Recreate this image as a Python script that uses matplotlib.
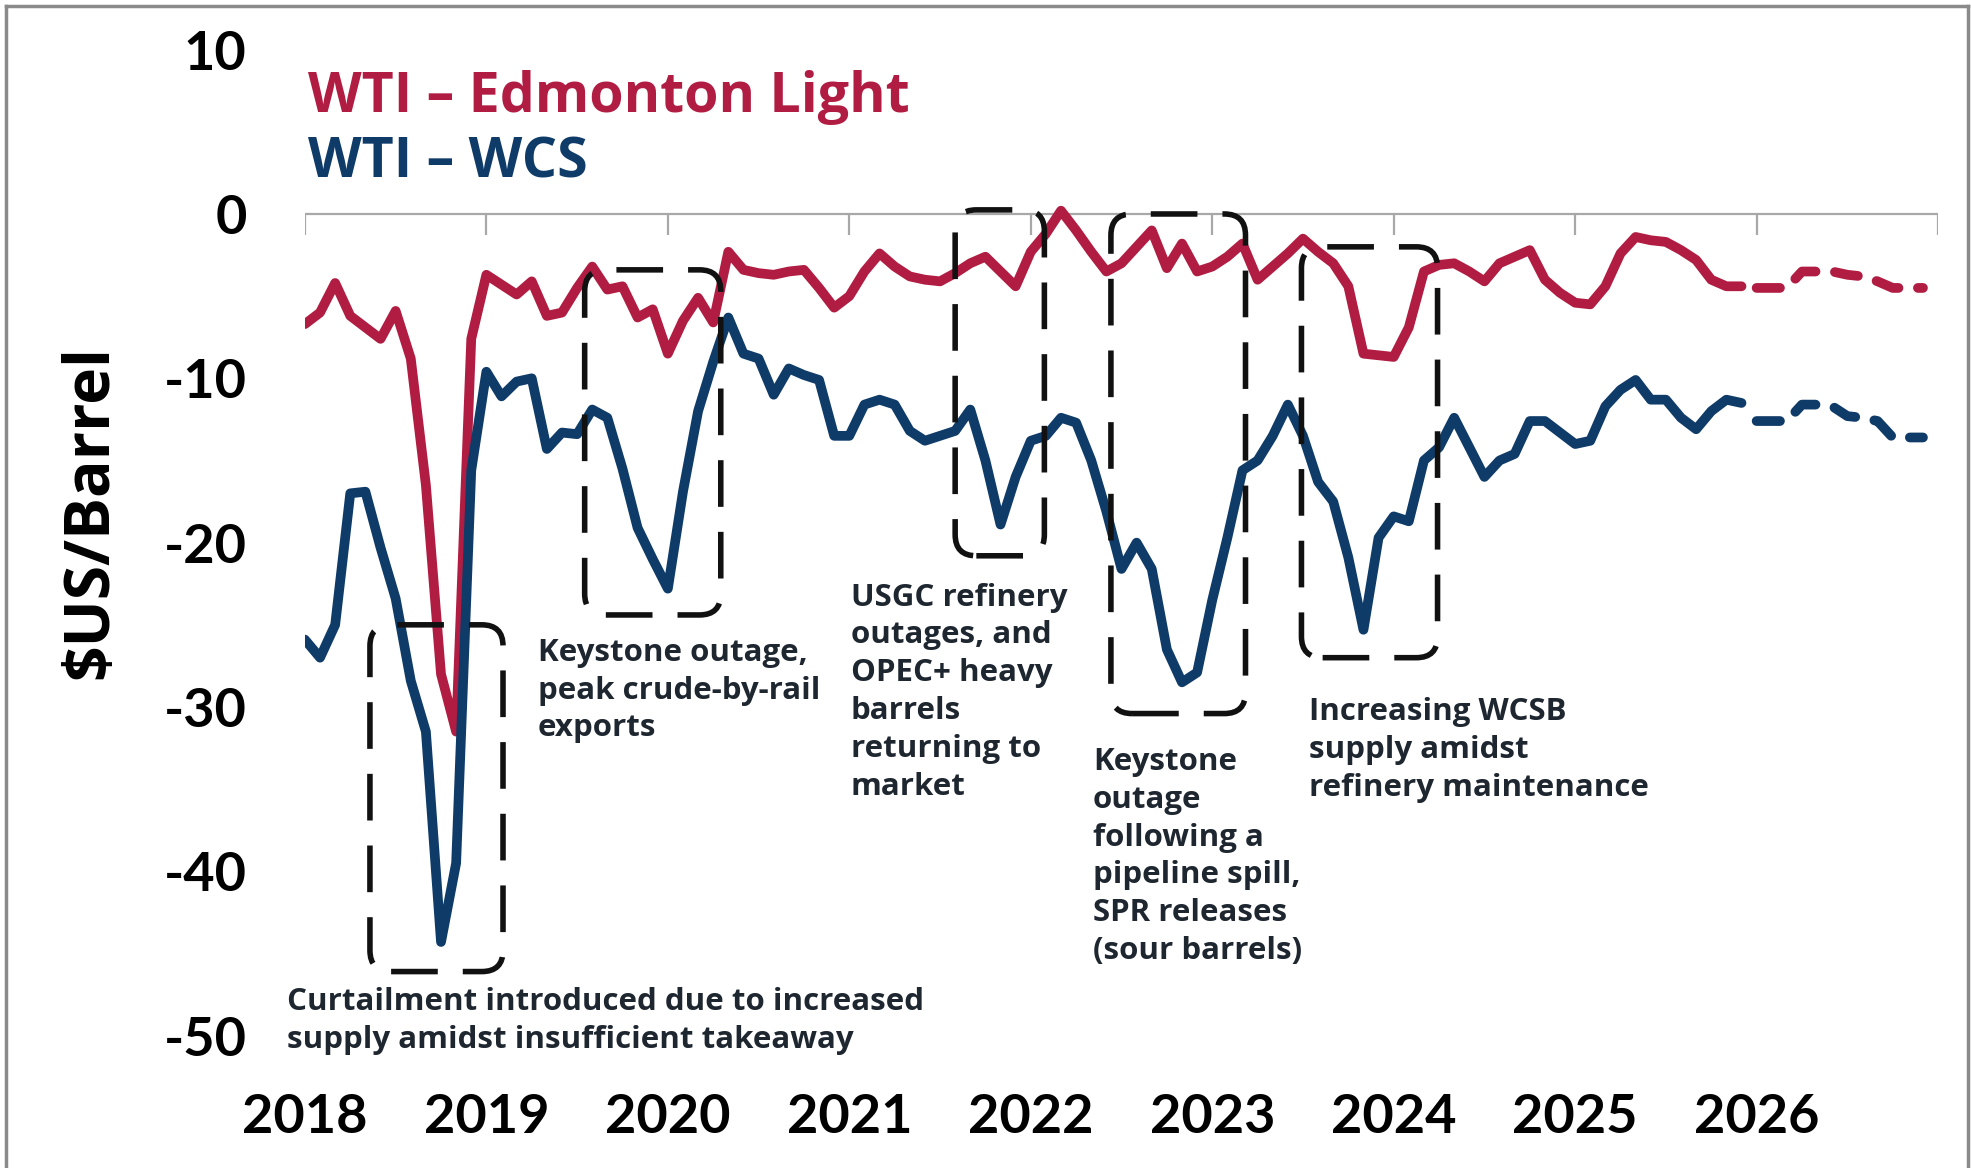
import numpy as np
import matplotlib.pyplot as plt
from matplotlib.patches import FancyBboxPatch
from matplotlib.lines import Line2D

plt.rcParams['font.family'] = ['Lato', 'DejaVu Sans']
plt.rcParams['font.weight'] = 'bold'
plt.rcParams['axes.unicode_minus'] = False

# monthly differentials, Jan 2018 - Dec 2025 ($US/bbl)
edm_light = [-6.7, -6.0, -4.2, -6.2, -6.9, -7.6, -5.9, -8.8, -16.5, -28.0, -31.5, -7.6,
             -3.7, -4.3, -4.9, -4.1, -6.2, -6.0, -4.5, -3.2, -4.6, -4.4, -6.3, -5.8,
             -8.5, -6.5, -5.1, -6.6, -2.3, -3.4, -3.6, -3.7, -3.5, -3.4, -4.5, -5.7,
             -5.0, -3.5, -2.4, -3.2, -3.8, -4.0, -4.1, -3.6, -3.0, -2.6, -3.5, -4.4,
             -2.3, -1.2, 0.2, -1.0, -2.3, -3.5, -3.0, -2.0, -1.0, -3.3, -1.8, -3.5,
             -3.2, -2.6, -1.8, -4.0, -3.2, -2.4, -1.5, -2.3, -3.0, -4.4, -8.5, -8.6,
             -8.7, -6.9, -3.5, -3.1, -3.0, -3.5, -4.1, -3.0, -2.6, -2.2, -4.0, -4.8,
             -5.4, -5.5, -4.4, -2.4, -1.4, -1.6, -1.7, -2.2, -2.8, -4.0, -4.4, -4.4]
wcs = [-25.9, -27.0, -25.0, -17.0, -16.9, -20.3, -23.4, -28.4, -31.5, -44.3, -39.5, -15.6,
       -9.6, -11.1, -10.2, -10.0, -14.3, -13.3, -13.4, -11.9, -12.4, -15.5, -19.1, -21.0,
       -22.8, -16.9, -12.0, -9.0, -6.3, -8.5, -8.8, -11.0, -9.4, -9.8, -10.1, -13.5,
       -13.5, -11.6, -11.3, -11.6, -13.2, -13.8, -13.5, -13.2, -11.9, -15.0, -18.9, -16.0,
       -13.8, -13.5, -12.4, -12.7, -15.0, -18.1, -21.6, -20.0, -21.6, -26.5, -28.5, -27.9,
       -23.5, -19.7, -15.6, -15.0, -13.5, -11.6, -13.5, -16.3, -17.5, -20.9, -25.3, -19.7,
       -18.4, -18.7, -15.0, -14.2, -12.4, -14.2, -16.0, -15.0, -14.6, -12.6, -12.6, -13.3,
       -14.0, -13.8, -11.7, -10.7, -10.1, -11.3, -11.3, -12.4, -13.1, -12.0, -11.3, -11.5]

# 2026 outlook
edm_light_fc = [-4.5, -4.5, -4.5, -3.5, -3.5, -3.5, -3.7, -3.8, -4.1, -4.5, -4.5, -4.5]
wcs_fc = [-12.6, -12.6, -12.6, -11.6, -11.6, -11.7, -12.3, -12.4, -12.6, -13.6, -13.6, -13.6]

years = ['2018', '2019', '2020', '2021', '2022', '2023', '2024', '2025', '2026', '']

red = '#B11D42'
blue = '#0F3B68'
note_color = '#1E2630'
text_font = ['Open Sans', 'DejaVu Sans']

hist_x = np.arange(len(edm_light))
fc_x = np.arange(len(edm_light), len(edm_light) + len(edm_light_fc))
year_ticks = np.arange(len(years)) * 12

fig = plt.figure(figsize=(19.71, 11.68), dpi=100)
ax = fig.add_axes([0.1547, 0.0711, 0.8286, 0.8864])

# zero line with year ticks hanging below it
ax.axhline(0, color='#A8A8A8', lw=1.6, zorder=1)
ax.vlines(year_ticks, -1.3, 0, color='#A8A8A8', lw=1.6, zorder=1)

ax.plot(hist_x, edm_light, color=red, lw=7, solid_capstyle='round',
        solid_joinstyle='round', zorder=3)
ax.plot(hist_x, wcs, color=blue, lw=7, solid_capstyle='round',
        solid_joinstyle='round', zorder=3)
ax.plot(fc_x, edm_light_fc, color=red, lw=7, linestyle=(0, (2.4, 2.0)),
        dash_capstyle='round', zorder=3)
ax.plot(fc_x, wcs_fc, color=blue, lw=7, linestyle=(0, (2.4, 2.0)),
        dash_capstyle='round', zorder=3)

# highlighted periods: (x0, x1, y0, y1)
boxes = [(4.3, 13.1, -46.1, -25.0),
         (18.5, 27.5, -24.4, -3.4),
         (43.0, 48.9, -20.8, 0.25),
         (53.3, 62.2, -30.4, 0.0),
         (65.9, 74.9, -27.0, -2.0)]
for x0, x1, y0, y1 in boxes:
    box = FancyBboxPatch((x0, y0), x1 - x0, y1 - y0,
                         boxstyle='round,pad=0,rounding_size=1.4',
                         mutation_aspect=0.92, fill=False, ec='#111111',
                         lw=4, linestyle=(0, (8.4, 4.5)), zorder=4)
    ax.add_patch(box)

notes = [(-1.2, -49.1, 'Curtailment introduced due to increased\nsupply amidst insufficient takeaway'),
         (15.4, -29.0, 'Keystone outage,\npeak crude-by-rail\nexports'),
         (36.1, -29.1, 'USGC refinery\noutages, and\nOPEC+ heavy\nbarrels\nreturning to\nmarket'),
         (52.1, -39.1, 'Keystone\noutage\nfollowing a\npipeline spill,\nSPR releases\n(sour barrels)'),
         (66.4, -32.6, 'Increasing WCSB\nsupply amidst\nrefinery maintenance')]
for x, y, s in notes:
    ax.text(x, y, s, color=note_color, fontsize=22.5, fontweight='bold',
            family=text_font, ha='left', va='center', linespacing=1.34, zorder=5)

ax.text(0.2, 7.06, 'WTI \u2013 Edmonton Light', color=red, fontsize=40,
        fontweight='bold', family=text_font, ha='left', va='center')
ax.text(0.2, 3.1, 'WTI \u2013 WCS', color=blue, fontsize=40,
        fontweight='bold', family=text_font, ha='left', va='center')

ax.set_xlim(0, 108)
ax.set_ylim(-53, 10)
ax.set_xticks(year_ticks)
ax.set_xticklabels(years)
ax.set_yticks(np.arange(-50, 11, 10))
ax.tick_params(axis='both', length=0, labelsize=39)
ax.tick_params(axis='x', pad=6)
ax.tick_params(axis='y', pad=42)
for lab in ax.get_xticklabels() + ax.get_yticklabels():
    lab.set_fontweight('bold')
for side in ['top', 'right', 'bottom', 'left']:
    ax.spines[side].set_visible(False)

ax.set_ylabel('$US/Barrel', fontsize=45, fontweight='bold', family=text_font)
ax.yaxis.set_label_coords(-0.112, 0.553)

# thin grey frame around the figure
for xs, ys in [([0.003, 0.003], [0, 0.995]),
               ([0.003, 0.9985], [0.995, 0.995]),
               ([0.9985, 0.9985], [0, 0.995])]:
    fig.add_artist(Line2D(xs, ys, transform=fig.transFigure, color='#8A8A8A', lw=2.5))

fig.savefig('out.png', dpi=100)
